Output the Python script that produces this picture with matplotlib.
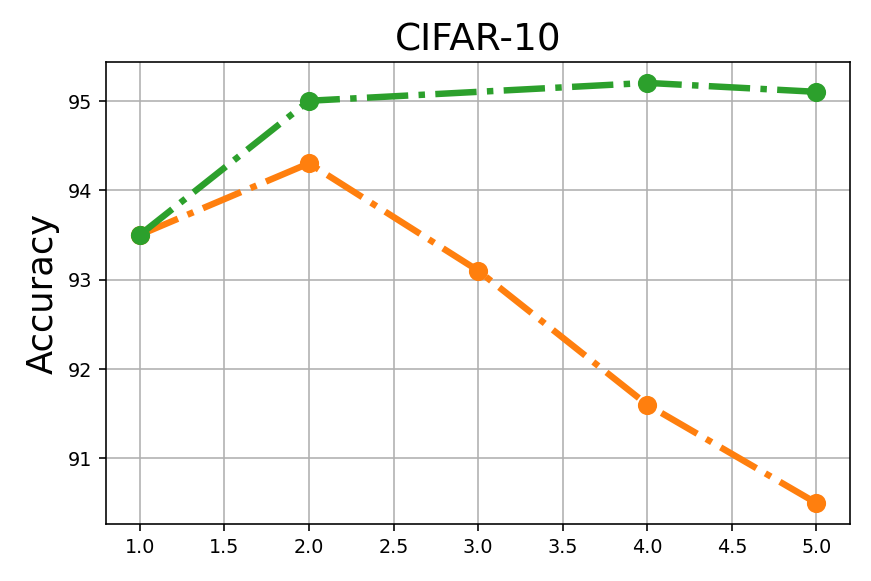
import matplotlib
matplotlib.use("Agg")
import matplotlib.pyplot as plt

# dados
x_orange = [1.0, 2.0, 3.0, 4.0, 5.0]
acc_orange = [93.5, 94.3, 93.1, 91.6, 90.5]
x_green = [1.0, 2.0, 4.0, 5.0]
acc_green = [93.5, 95.0, 95.2, 95.1]

fig = plt.figure(figsize=(6, 4), dpi=145.33)
ax = fig.add_axes([0.1216, 0.098, 0.8534, 0.795])

ax.plot(x_orange, acc_orange, '-.', color='tab:orange', linewidth=3.2,
        marker='o', markersize=8.5)
ax.plot(x_green, acc_green, '-.', color='tab:green', linewidth=3.2,
        marker='o', markersize=8.5)

ax.set_title("CIFAR-10", fontsize=18.5)
ax.set_ylabel("Accuracy", fontsize=17.5)
ax.set_xticks([1.0, 1.5, 2.0, 2.5, 3.0, 3.5, 4.0, 4.5, 5.0])
ax.grid(True, color='#b0b0b0', linewidth=0.8)
ax.tick_params(labelsize=9.5)

fig.savefig("out.png")
